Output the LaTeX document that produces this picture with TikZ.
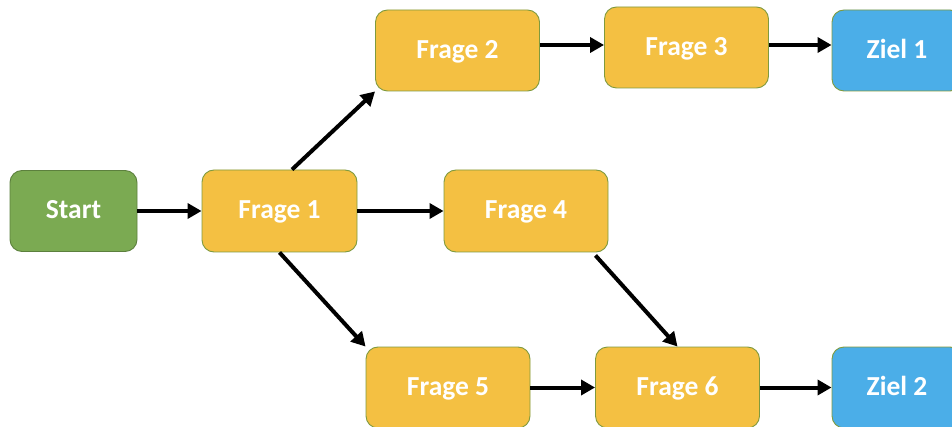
\documentclass[tikz,border=0pt]{standalone}
\usepackage{fontspec}
\setmainfont{Carlito}
\usetikzlibrary{arrows.meta,calc}
\definecolor{qyellow}{HTML}{F4C042}
\definecolor{qgreen}{HTML}{7BAA52}
\definecolor{qblue}{HTML}{4BAEE8}
\definecolor{qborder}{HTML}{7F9A3E}
\tikzset{
  box/.style={rectangle, rounded corners=12pt, draw=qborder, line width=0.9pt, text=white,
    font=\bfseries\fontsize{27.5}{30}\selectfont, inner sep=0pt, minimum height=81pt,
    text height=20pt, text depth=4pt},
  ques/.style={box, fill=qyellow, minimum width=164pt},
  startbox/.style={box, fill=qgreen, draw=qgreen!75!black, minimum width=127pt},
  goal/.style={box, fill=qblue, minimum width=130pt},
  conn/.style={line width=4pt, -{Triangle[length=14pt,width=15pt]}}
}
\begin{document}
\begin{tikzpicture}[x=1pt,y=1pt]
\useasboundingbox (0,0) rectangle (952,-427);
\clip (0,0) rectangle (952,-427);
\node[startbox] (s) at (73.5,-211) {Start};
\node[ques, minimum width=155pt, minimum height=82pt] (f1) at (279.5,-211) {Frage 1};
\node[ques] (f2) at (457.5,-50.5) {Frage 2};
\node[ques] (f3) at (686.5,-47.5) {Frage 3};
\node[goal] (z1) at (897,-50.5) {Ziel 1};
\node[ques, minimum height=82pt] (f4) at (526,-211) {Frage 4};
\node[ques] (f5) at (448,-387.5) {Frage 5};
\node[ques] (f6) at (677.5,-387.5) {Frage 6};
\node[goal] (z2) at (897,-387.5) {Ziel 2};
\draw[conn] (s) -- (f1);
\draw[conn] ($(f1.north)+(12.5,0)$) -- (f2.south west);
\draw[conn] (f1) -- (f4);
\draw[conn] (f1.south) -- (f5.north west);
\draw[conn] ($(f4.south east)+(-13,-3)$) -- (f6.north);
\draw[conn] (f2.east |- 0,-45) -- (f3.west |- 0,-45);
\draw[conn] (f3.east |- 0,-45) -- (z1.west |- 0,-45);
\draw[conn] (f5) -- (f6);
\draw[conn] (f6) -- (z2);
\end{tikzpicture}
\end{document}
